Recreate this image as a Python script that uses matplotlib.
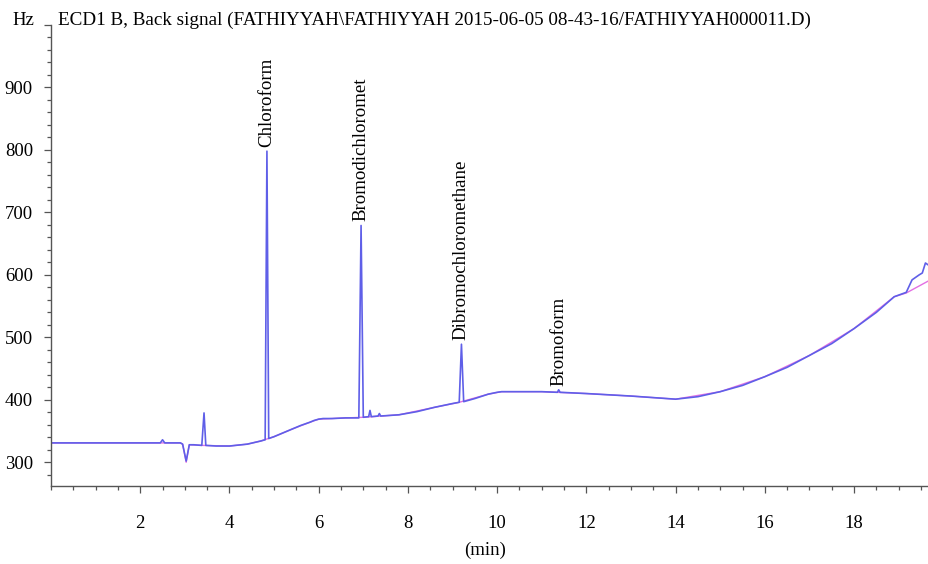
import matplotlib
matplotlib.use("Agg")
import matplotlib.pyplot as plt
from matplotlib.ticker import MultipleLocator

plt.rcParams['font.family'] = ['Liberation Serif', 'DejaVu Serif']

# Detector trace (blue): retention time (min) and signal (Hz)
time_blue = [0.0, 1.0, 2.0, 2.45, 2.5, 2.55, 2.9, 2.95, 3.03, 3.1, 3.2, 3.38, 3.43, 3.47,
             3.7, 4.0, 4.4, 4.7, 4.8, 4.84, 4.88, 5.0, 5.2, 5.4, 5.6, 5.8, 5.9, 6.0, 6.1,
             6.3, 6.6, 6.9, 6.95, 7.0, 7.12, 7.15, 7.18, 7.33, 7.36, 7.39, 7.8, 8.2, 8.6,
             9.0, 9.15, 9.2, 9.25, 9.5, 9.8, 10.0, 10.1, 11.0, 11.35, 11.38, 11.41, 12.0,
             13.0, 13.6, 14.0, 14.5, 15.0, 15.5, 16.0, 16.5, 17.0, 17.5, 18.0, 18.5,
             18.9, 19.17, 19.3, 19.46, 19.53, 19.6, 19.66]
signal_blue = [331, 331, 331, 331, 336, 331, 331, 329, 302, 328, 328, 327, 379, 327,
               326, 326, 329, 334, 336, 798, 338, 341, 347, 353, 359, 364, 367, 369, 370,
               370, 371, 371, 679, 372, 373, 383, 373, 374, 378, 374, 376, 381, 388,
               394, 396, 489, 397, 402, 409, 412, 413, 413, 412, 416, 412, 410,
               406, 403, 401, 405, 413, 423, 437, 452, 471, 490, 514, 540,
               565, 572, 592, 600, 603, 619, 616]

# Reference trace (magenta)
time_pink = [0.0, 2.0, 2.9, 2.95, 3.03, 3.1, 3.4, 4.0, 4.4, 4.7, 5.0, 5.4, 5.8, 6.0,
             6.6, 7.0, 7.8, 8.6, 9.15, 9.8, 10.1, 11.0, 12.0, 13.0, 14.0, 15.0, 16.0,
             17.0, 18.0, 18.9, 19.17, 19.66]
signal_pink = [331, 331, 331, 329, 300, 328, 327, 326, 329, 334, 341, 353, 364, 369,
               371, 372, 376, 388, 396, 409, 413, 413, 410, 406, 401, 413, 437,
               471, 514, 565, 571, 590]

# Identified compounds
compounds = ["Chloroform", "Bromodichloromet", "Dibromochloromethane", "Bromoform"]
ret_times = [4.84, 6.95, 9.2, 11.38]
apex_hz = [798, 679, 489, 416]

y_ticks = [300, 400, 500, 600, 700, 800, 900, 1000]
y_tick_labels = ["300", "400", "500", "600", "700", "800", "900", ""]
x_ticks = [2, 4, 6, 8, 10, 12, 14, 16, 18]

title = "ECD1 B, Back signal (FATHIYYAH\\FATHIYYAH 2015-06-05 08-43-16/FATHIYYAH000011.D)"

fig = plt.figure(figsize=(9.29, 5.64), dpi=100)
ax = fig.add_axes([51 / 929, 1 - 486 / 564, 1 - 51 / 929, (486 - 25) / 564])

ax.plot(time_pink, signal_pink, color="#e060e0", lw=1.0, alpha=0.9)
ax.plot(time_blue, signal_blue, color="#5f5fe8", lw=1.2)

for name, t, h in zip(compounds, ret_times, apex_hz):
    ax.annotate(name, xy=(t, h), xytext=(0, 3), textcoords="offset points",
                rotation=90, ha="center", va="bottom", fontsize=13.6)

ax.set_xlim(0, 19.68)
ax.set_ylim(262, 1000)

ax.set_xticks(x_ticks)
ax.set_xticklabels([str(v) for v in x_ticks])
ax.xaxis.set_minor_locator(MultipleLocator(0.5))
ax.set_yticks(y_ticks)
ax.set_yticklabels(y_tick_labels)
ax.yaxis.set_minor_locator(MultipleLocator(20))

ax.tick_params(axis="both", which="major", length=5, width=0.9, color="#555555",
               labelsize=13.5)
ax.tick_params(axis="both", which="minor", length=3, width=0.9, color="#555555")
ax.tick_params(axis="x", which="major", pad=16)
ax.tick_params(axis="y", which="major", pad=8)

for side in ("top", "right"):
    ax.spines[side].set_visible(False)
for side in ("left", "bottom"):
    ax.spines[side].set_color("#555555")
    ax.spines[side].set_linewidth(1.0)

# Unit label at the top of the y axis and the signal description beside it
ax.annotate("Hz", xy=(0, 1000), xycoords=("axes fraction", "data"),
            xytext=(-12, 3), textcoords="offset points",
            ha="right", va="center", fontsize=13.5)
ax.annotate(title, xy=(0, 1000), xycoords=("axes fraction", "data"),
            xytext=(5, 3), textcoords="offset points",
            ha="left", va="center", fontsize=13.8)

fig.text(0.5 * (1 + 51 / 929) - 0.005, 1 - 550 / 564, "(min)", ha="center", va="center",
         fontsize=13.5)

fig.savefig("out.png", dpi=100)
